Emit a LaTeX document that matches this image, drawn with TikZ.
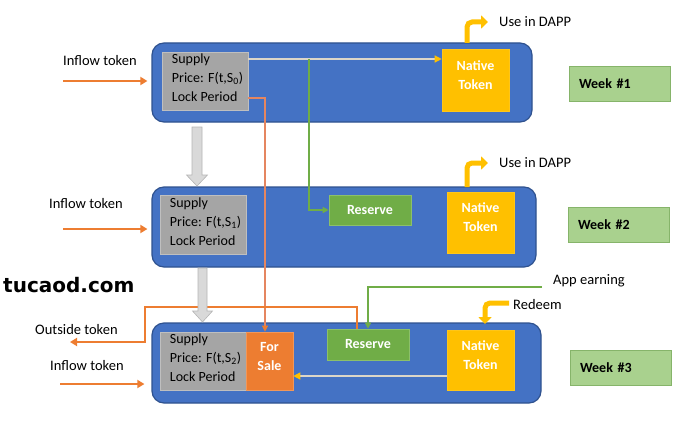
\documentclass[tikz,border=0pt]{standalone}
\usepackage{fontspec}
\setmainfont{Carlito}
\newfontfamily\logofont{DejaVu Sans}
\usetikzlibrary{arrows.meta}
\definecolor{pblue}{HTML}{4472C4}
\definecolor{pbluedark}{HTML}{2F528F}
\definecolor{pgray}{HTML}{A5A5A5}
\definecolor{pgrayb}{HTML}{BFBFBF}
\definecolor{pyellow}{HTML}{FFC000}
\definecolor{pgreen}{HTML}{70AD47}
\definecolor{pgreenb}{HTML}{8CC06A}
\definecolor{porange}{HTML}{ED7D31}
\definecolor{porangel}{HTML}{E58660}
\definecolor{pweek}{HTML}{A9D18E}
\definecolor{pweekb}{HTML}{86B46A}
\definecolor{ppale}{HTML}{DCD6C8}
\definecolor{pblock}{HTML}{D9D9D9}
\definecolor{pblockb}{HTML}{B5B5B5}
\begin{document}
\begin{tikzpicture}[x=1pt,y=-1pt,
  every node/.style={inner sep=0pt},
  txt/.style={font=\fontsize{14.5}{19}\selectfont},
  panel/.style={draw=pbluedark, line width=1.2pt, fill=pblue, rounded corners=12pt, minimum height=80pt},
  params/.style={draw=pgrayb, line width=0.6pt, fill=pgray, minimum width=86pt, minimum height=58pt},
  paramtext/.style={align=left, font=\fontsize{14}{19}\selectfont},
  native/.style={fill=pyellow, draw=pyellow!90!white, line width=0.6pt, minimum width=67pt},
  whitetext/.style={text=white, align=center, font=\bfseries\fontsize{14}{19}\selectfont},
  reservebox/.style={fill=pgreen, draw=pgreenb, line width=0.6pt, minimum width=82pt, text=white, font=\bfseries\fontsize{14}{19}\selectfont},
  salebox/.style={fill=porange, draw=porange!80!white, line width=0.6pt, minimum width=47pt, minimum height=58pt},
  week/.style={fill=pweek, draw=pweekb, line width=0.8pt, text width=81pt, inner xsep=10pt, minimum height=35pt, align=left, font=\bfseries\fontsize{14}{19}\selectfont},
  pale/.style={draw=ppale, line width=1.2pt, -{Triangle[length=7pt,width=7pt,fill=pyellow,color=pyellow]}},
  greenln/.style={draw=pgreen, line width=1.3pt, -{Triangle[length=6pt,width=6pt]}},
  orangethin/.style={draw=porangel, line width=1.2pt, -{Triangle[length=6pt,width=6pt,fill=porange,color=porange]}},
  orangethick/.style={draw=porange, line width=1.8pt, -{Triangle[length=7pt,width=8pt]}},
  yarrow/.style={draw=pyellow, line width=5pt, rounded corners=5pt, -{Triangle[length=7pt,width=13pt]}},
  blockarrow/.style={fill=pblock, draw=pblockb, line width=0.6pt}
]
\useasboundingbox (0,0) rectangle (700,420);

% ---------- Week 1 ----------
\node[panel, minimum width=380pt, minimum height=79pt] (b1) at (342,82.5) {};
\node[params] (g1) at (205,81) {};
\node[paramtext, anchor=west] (t1) at ([xshift=10pt,yshift=3pt]g1.west) {Supply\\Price: F(t,S\textsubscript{0})\\Lock Period};
\node[native, minimum height=62pt] (n1) at (475.5,80) {};
\node[whitetext] (n1t) at ([yshift=5pt]n1.center) {Native\\Token};
\node[week] (w1) at (619.5,84) {Week \#1};

% ---------- Week 2 ----------
\node[panel, minimum width=384pt] (b2) at (344,227) {};
\node[params, minimum height=59pt] (g2) at (203,224.5) {};
\node[paramtext, anchor=west] (t2) at ([xshift=10pt,yshift=3pt]g2.west) {Supply\\Price: F(t,S\textsubscript{1})\\Lock Period};
\node[reservebox, minimum height=30pt] (r2) at (370,210) {Reserve};
\node[native, minimum height=61pt] (n2) at (480.5,222.5) {};
\node[whitetext] (n2t) at ([yshift=5pt]n2.center) {Native\\Token};
\node[week] (w2) at (618.5,224.5) {Week \#2};

% ---------- Week 3 ----------
\node[panel, minimum width=389pt] (b3) at (346.5,363) {};
\node[params] (g3) at (203,361) {};
\node[paramtext, anchor=west] (t3) at ([xshift=10pt,yshift=3pt]g3.west) {Supply\\Price: F(t,S\textsubscript{2})\\Lock Period};
\node[salebox] (fs) at (269.5,361) {};
\node[whitetext] (fst) at ([yshift=4.5pt]fs.center) {For\\Sale};
\node[reservebox, minimum height=31pt] (r3) at (368,344.5) {Reserve};
\node[native, minimum height=60pt] (n3) at (480.5,360) {};
\node[whitetext] (n3t) at ([yshift=5pt]n3.center) {Native\\Token};
\node[week] (w3) at (620.5,367.5) {Week \#3};

% ---------- labels ----------
\node[txt, anchor=west] (in1l) at (63,61) {Inflow token};
\node[txt, anchor=west] (in2l) at (49,204) {Inflow token};
\node[txt, anchor=west] (in3l) at (50,366) {Inflow token};
\node[txt, anchor=west] (outl) at (35,330) {Outside token};
\node[txt, anchor=west] (appl) at (553,281) {App earning};
\node[txt, anchor=west] (redl) at (513,305) {Redeem};
\node[txt, anchor=west] (use1) at (499,22) {Use in DAPP};
\node[txt, anchor=west] (use2) at (499,163) {Use in DAPP};
\node[anchor=west, font=\logofont\bfseries\fontsize{20}{24}\selectfont] (logo) at (3,285) {tucaod.com};

% ---------- connectors ----------
\coordinate (in1) at (63,81);
\coordinate (in2) at (63,229);
\coordinate (in3) at (60,384);
\draw[orangethick] (in1) -- ([xshift=-4pt]in1 -| b1.west);
\draw[orangethick] (in2) -- ([xshift=-4pt]in2 -| b2.west);
\draw[orangethick] (in3) -- ([xshift=-7pt]in3 -| b3.west);

\coordinate (s1) at ([yshift=22pt]g1.east);
\draw[pale] (s1) -- (s1 -| n1.west);
\coordinate (gsplit) at (309,59);
\draw[greenln] (gsplit) |- (r2.west);

\coordinate (s2) at ([yshift=-17pt]g1.east);
\coordinate (fsin) at ([xshift=-4.5pt]fs.north);
\draw[orangethin] (s2) -| (fsin);

\coordinate (r3o) at ([xshift=-11pt]r3.north);
\coordinate (outbend) at (145,307);
\coordinate (outend) at (70,342);
\draw[orangethick, rounded corners=0pt] (r3o) |- (outbend) |- (outend);

\coordinate (ae) at (542,287);
\draw[greenln] (ae) -| (r3.north);

\coordinate (s3) at ([yshift=-16pt]n3.west);
\draw[pale] (s3) -- (s3 -| fs.east);

\coordinate (u1a) at (467,43);
\coordinate (u1b) at (488,22);
\draw[yarrow] (u1a) |- (u1b);
\coordinate (u2a) at (467,187);
\coordinate (u2b) at (488,163);
\draw[yarrow] (u2a) |- (u2b);
\coordinate (rda) at (509,303);
\coordinate (rdb) at (485,324);
\draw[yarrow] (rda) -| (rdb);

% ---------- grey flow arrows ----------
\draw[blockarrow] (192,127) -- (202,127) -- (202,175) -- (207.5,175) -- (197,186) -- (186.5,175) -- (192,175) -- cycle;
\draw[blockarrow] (198,268) -- (207,268) -- (207,311) -- (212.5,311) -- (202.5,322) -- (192.5,311) -- (198,311) -- cycle;
\end{tikzpicture}
\end{document}
